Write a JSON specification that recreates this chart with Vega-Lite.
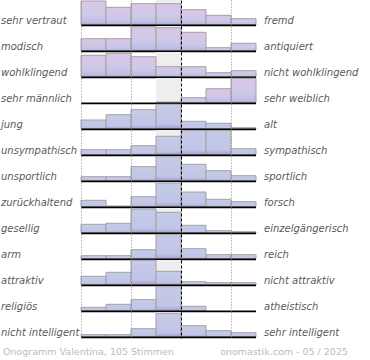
{
  "$schema": "https://vega.github.io/schema/vega-lite/v6.json",
  "padding": 0,
  "background": "white",
  "config": {"scale": {"continuousPadding": 0}},
  "datasets": {
    "bars": [
      {"i":1,"c":1,"v":24},{"i":1,"c":2,"v":17.7},{"i":1,"c":3,"v":21.3},{"i":1,"c":4,"v":21.3},{"i":1,"c":5,"v":15.3},{"i":1,"c":6,"v":9.7},{"i":1,"c":7,"v":6.3},
      {"i":2,"c":1,"v":12.3},{"i":2,"c":2,"v":12.3},{"i":2,"c":3,"v":24.3},{"i":2,"c":4,"v":23.3},{"i":2,"c":5,"v":18.7},{"i":2,"c":6,"v":3.3},{"i":2,"c":7,"v":7.7},
      {"i":3,"c":1,"v":21.7},{"i":3,"c":2,"v":23.7},{"i":3,"c":3,"v":20.3},{"i":3,"c":4,"v":10.3},{"i":3,"c":5,"v":10.3},{"i":3,"c":6,"v":4.3},{"i":3,"c":7,"v":6.3},
      {"i":4,"c":1,"v":0},{"i":4,"c":2,"v":0},{"i":4,"c":3,"v":0},{"i":4,"c":4,"v":1},{"i":4,"c":5,"v":5.3},{"i":4,"c":6,"v":14.3},{"i":4,"c":7,"v":24.7},
      {"i":5,"c":1,"v":9},{"i":5,"c":2,"v":14.3},{"i":5,"c":3,"v":19.3},{"i":5,"c":4,"v":24.7},{"i":5,"c":5,"v":7.7},{"i":5,"c":6,"v":5.7},{"i":5,"c":7,"v":1.3},
      {"i":6,"c":1,"v":5.3},{"i":6,"c":2,"v":5.3},{"i":6,"c":3,"v":9.3},{"i":6,"c":4,"v":18.7},{"i":6,"c":5,"v":24.3},{"i":6,"c":6,"v":24.3},{"i":6,"c":7,"v":6.3},
      {"i":7,"c":1,"v":4.3},{"i":7,"c":2,"v":4.3},{"i":7,"c":3,"v":14.3},{"i":7,"c":4,"v":24.3},{"i":7,"c":5,"v":16.7},{"i":7,"c":6,"v":10.3},{"i":7,"c":7,"v":5.3},
      {"i":8,"c":1,"v":6.7},{"i":8,"c":2,"v":1},{"i":8,"c":3,"v":10.3},{"i":8,"c":4,"v":24},{"i":8,"c":5,"v":15},{"i":8,"c":6,"v":7.7},{"i":8,"c":7,"v":5.3},
      {"i":9,"c":1,"v":8.7},{"i":9,"c":2,"v":9.7},{"i":9,"c":3,"v":24},{"i":9,"c":4,"v":20.7},{"i":9,"c":5,"v":7.7},{"i":9,"c":6,"v":2.3},{"i":9,"c":7,"v":1.3},
      {"i":10,"c":1,"v":3.3},{"i":10,"c":2,"v":3.3},{"i":10,"c":3,"v":9.3},{"i":10,"c":4,"v":24.3},{"i":10,"c":5,"v":10.3},{"i":10,"c":6,"v":4.3},{"i":10,"c":7,"v":4.3},
      {"i":11,"c":1,"v":8.7},{"i":11,"c":2,"v":12.7},{"i":11,"c":3,"v":24.7},{"i":11,"c":4,"v":13.7},{"i":11,"c":5,"v":3.3},{"i":11,"c":6,"v":2.3},{"i":11,"c":7,"v":2.3},
      {"i":12,"c":1,"v":3.7},{"i":12,"c":2,"v":6.7},{"i":12,"c":3,"v":11.3},{"i":12,"c":4,"v":24.3},{"i":12,"c":5,"v":4.7},{"i":12,"c":6,"v":0},{"i":12,"c":7,"v":0},
      {"i":13,"c":1,"v":2.3},{"i":13,"c":2,"v":2.3},{"i":13,"c":3,"v":8.3},{"i":13,"c":4,"v":23.7},{"i":13,"c":5,"v":11.3},{"i":13,"c":6,"v":6.3},{"i":13,"c":7,"v":4.3}
    ],
    "labels": [
      {"i":1,"l":"sehr vertraut","r":"fremd"},
      {"i":2,"l":"modisch","r":"antiquiert"},
      {"i":3,"l":"wohlklingend","r":"nicht wohlklingend"},
      {"i":4,"l":"sehr männlich","r":"sehr weiblich"},
      {"i":5,"l":"\u00a0jung","r":"alt"},
      {"i":6,"l":"unsympathisch","r":"sympathisch"},
      {"i":7,"l":"unsportlich","r":"sportlich"},
      {"i":8,"l":"zurückhaltend","r":"forsch"},
      {"i":9,"l":"gesellig","r":"einzelgängerisch"},
      {"i":10,"l":"arm","r":"reich"},
      {"i":11,"l":"attraktiv","r":"nicht attraktiv"},
      {"i":12,"l":"religiös","r":"atheistisch"},
      {"i":13,"l":"nicht intelligent","r":"sehr intelligent"}
    ]
  },
  "data": {"name": "bars"},
  "transform": [
    {"lookup": "i", "from": {"data": {"name": "labels"}, "key": "i", "fields": ["l", "r"]}}
  ],
  "facet": {"row": {"field": "i", "type": "ordinal", "header": null}},
  "spacing": 0,
  "bounds": "flush",
  "spec": {
    "width": 175,
    "height": 26,
    "view": {"stroke": null},
    "layer": [
      {
        "transform": [{"filter": "datum.c == 1"}],
        "mark": {"type": "rect", "fill": "#eeeeee"},
        "encoding": {
          "x": {"datum": 3.5, "type": "quantitative", "scale": {"domain": [0.5, 7.5], "nice": false, "zero": false, "padding": 0},
            "axis": {"values": [0.5,1.5,2.5,3.5,4.5,5.5,6.5,7.5], "labels": false, "ticks": false, "domain": false, "title": null, "grid": true, "zindex": 1, "gridWidth": 1,
              "gridColor": {"condition": {"test": "datum.value == 3.5 || datum.value == 4.5", "value": "#000000"}, "value": "#888888"},
              "gridDash": {"condition": {"test": "datum.value == 3.5 || datum.value == 4.5", "value": [3, 2]}, "value": [1, 2]}}},
          "x2": {"datum": 4.5},
          "y": {"datum": -1, "type": "quantitative", "scale": {"domain": [-1, 25], "nice": false, "zero": false, "padding": 0}, "axis": null},
          "y2": {"datum": 25}
        }
      },
      {
        "transform": [{"filter": "datum.v > 0"}],
        "mark": {"type": "bar", "width": 25, "stroke": "#a2a2a2", "strokeWidth": 1},
        "encoding": {
          "x": {"field": "c", "type": "quantitative", "scale": {"domain": [0.5, 7.5], "nice": false, "zero": false, "padding": 0}},
          "y": {"field": "v", "type": "quantitative", "scale": {"domain": [-1, 25], "nice": false, "zero": false, "padding": 0}, "axis": null},
          "y2": {"datum": 0},
          "fill": {
            "condition": {"test": "datum.i <= 4", "value": {"gradient": "linear", "x1": 0, "y1": 0, "x2": 0, "y2": 1, "stops": [{"offset": 0, "color": "#dcc6e6"}, {"offset": 0.6, "color": "#cdc8e8"}, {"offset": 0.9, "color": "#bdbde3"}, {"offset": 1, "color": "#9f97d0"}]}},
            "value": {"gradient": "linear", "x1": 0, "y1": 0, "x2": 0, "y2": 1, "stops": [{"offset": 0, "color": "#c6cbe9"}, {"offset": 0.8, "color": "#c1c5e6"}, {"offset": 1, "color": "#a29ad2"}]}
          }
        }
      },
      {
        "transform": [{"filter": "datum.c == 1"}],
        "mark": {"type": "rule", "color": "#000000", "strokeWidth": 1.6},
        "encoding": {
          "y": {"datum": -0.4, "type": "quantitative", "scale": {"domain": [-1, 25], "nice": false, "zero": false, "padding": 0}}
        }
      },
      {
        "transform": [{"filter": "datum.c == 1"}],
        "mark": {"type": "text", "align": "left", "baseline": "middle", "font": "DejaVu Sans", "fontSize": 10, "fontStyle": "italic", "color": "#5a5a5a", "clip": false},
        "encoding": {
          "x": {"datum": -2.7, "type": "quantitative", "scale": {"domain": [0.5, 7.5], "nice": false, "zero": false, "padding": 0}},
          "y": {"datum": 4.5, "type": "quantitative", "scale": {"domain": [-1, 25], "nice": false, "zero": false, "padding": 0}},
          "text": {"field": "l"}
        }
      },
      {
        "transform": [{"filter": "datum.c == 1"}],
        "mark": {"type": "text", "align": "left", "baseline": "middle", "font": "DejaVu Sans", "fontSize": 10, "fontStyle": "italic", "color": "#5a5a5a", "clip": false},
        "encoding": {
          "x": {"datum": 7.82, "type": "quantitative", "scale": {"domain": [0.5, 7.5], "nice": false, "zero": false, "padding": 0}},
          "y": {"datum": 4.5, "type": "quantitative", "scale": {"domain": [-1, 25], "nice": false, "zero": false, "padding": 0}},
          "text": {"field": "r"}
        }
      },
      {
        "transform": [{"filter": "datum.c == 1 && datum.i == 13"}],
        "mark": {"type": "text", "align": "left", "baseline": "middle", "font": "DejaVu Sans", "fontSize": 9.5, "color": "#bbbbbb", "clip": false, "text": "Onogramm Valentina, 105 Stimmen"},
        "encoding": {
          "x": {"datum": -2.62, "type": "quantitative", "scale": {"domain": [0.5, 7.5], "nice": false, "zero": false, "padding": 0}},
          "y": {"datum": -15, "type": "quantitative", "scale": {"domain": [-1, 25], "nice": false, "zero": false, "padding": 0}}
        }
      },
      {
        "transform": [{"filter": "datum.c == 1 && datum.i == 13"}],
        "mark": {"type": "text", "align": "right", "baseline": "middle", "font": "DejaVu Sans", "fontSize": 9.5, "color": "#bbbbbb", "clip": false, "text": "onomastik.com - 05 / 2025"},
        "encoding": {
          "x": {"datum": 11.18, "type": "quantitative", "scale": {"domain": [0.5, 7.5], "nice": false, "zero": false, "padding": 0}},
          "y": {"datum": -15, "type": "quantitative", "scale": {"domain": [-1, 25], "nice": false, "zero": false, "padding": 0}}
        }
      }
    ]
  }
}
